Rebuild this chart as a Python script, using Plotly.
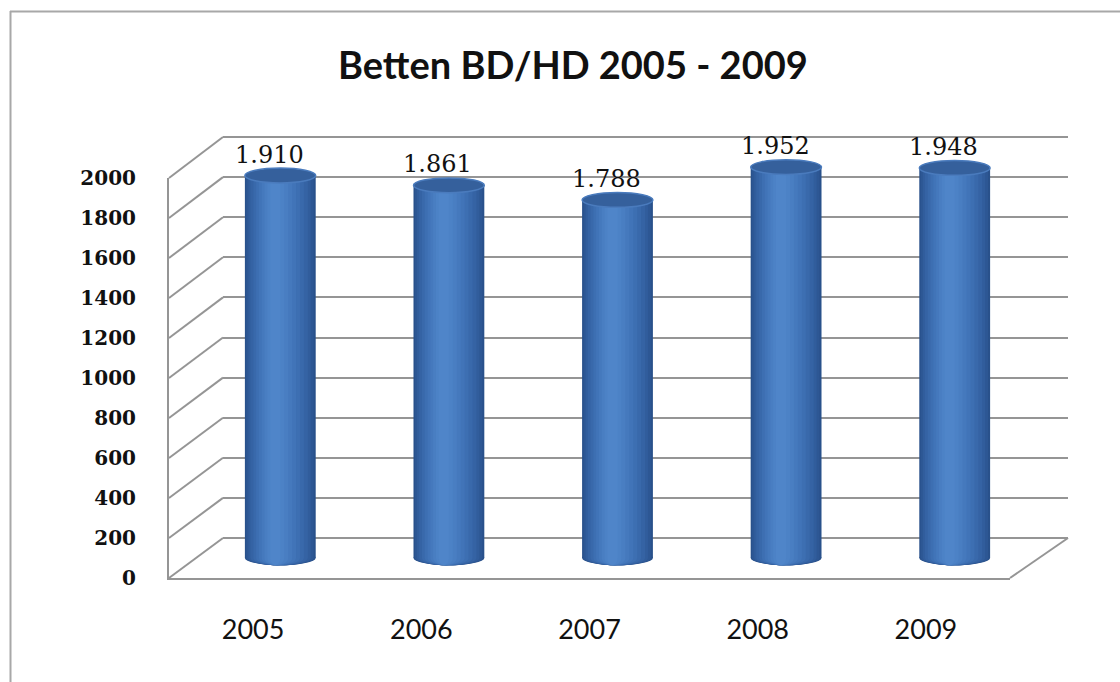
import plotly.graph_objects as go

# ---------------- data ----------------
years = ["2005", "2006", "2007", "2008", "2009"]
beds = [1910, 1861, 1788, 1952, 1948]
y_ticks = [0, 200, 400, 600, 800, 1000, 1200, 1400, 1600, 1800, 2000]
title_text = "Betten BD/HD 2005 - 2009"

# ---------------- geometry (pixels) ----------------
W, H = 1120, 682
YMAX = 2000
FRONT = dict(x0=169, x1=1010, yb=578, yt=178)   # front plane (labels, left edge, floor edge)
BACK = dict(x0=223, x1=1068, yb=538, yt=137)    # back wall (gridlines)
MID = dict(x0=196, x1=1039, yb=558, yt=157.5)   # mid plane (cylinders)


def px(x):
    return x / W


def py(y):
    return 1 - y / H


def ypix(p, v):
    return p["yb"] + (p["yt"] - p["yb"]) * v / YMAX


def dom_x(p):
    return [px(p["x0"]), px(p["x1"])]


def dom_y(p, lo=0, hi=YMAX):
    return [py(ypix(p, lo)), py(ypix(p, hi))]


idx = list(range(len(years)))
fig = go.Figure()

# back wall subplot (x, y) – gridlines only
fig.add_trace(go.Scatter(x=[0], y=[0], mode="markers", marker=dict(opacity=0),
                         hoverinfo="skip", showlegend=False, xaxis="x", yaxis="y"))

# cylinders (x2, y2) – overlaid bars of decreasing width give the cylinder shading
BAR_W = 0.42
layers = [(0.42, "#29518b"), (0.40, "#2d5794"), (0.37, "#315d9c"), (0.34, "#3563a4"),
          (0.30, "#3969ab"), (0.26, "#3d6fb2"), (0.22, "#4174b8"), (0.18, "#4579bd"),
          (0.14, "#497ec2"), (0.10, "#4c82c6"), (0.06, "#4f85c9")]
shapes = []
for w, c in layers:
    off = -w / 2 - 0.035 * (1 - w / BAR_W)
    fig.add_trace(go.Bar(x=idx, y=beds, width=w, offset=off, marker=dict(color=c, line=dict(width=0)),
                         hoverinfo="skip", showlegend=False, xaxis="x2", yaxis="y2"))
    for i in idx:
        shapes.append(dict(type="circle", xref="x2", yref="y2", x0=i + off, x1=i + off + w,
                           y0=-36, y1=36, fillcolor=c, line=dict(width=0), layer="below"))

for i, v in zip(idx, beds):
    shapes.append(dict(type="circle", xref="x2", yref="y2", x0=i - BAR_W / 2, x1=i + BAR_W / 2,
                       y0=v - 37, y1=v + 37, fillcolor="#35609c",
                       line=dict(color="#4a7bbd", width=1.5), layer="above"))

# front subplot (x3, y3) – labels and front edges
fig.add_trace(go.Scatter(x=[0], y=[0], mode="markers", marker=dict(opacity=0),
                         hoverinfo="skip", showlegend=False, xaxis="x3", yaxis="y3"))

GRID = "#959595"
# left wall diagonals + right floor diagonal
for v in y_ticks:
    shapes.append(dict(type="line", xref="paper", yref="paper",
                       x0=px(FRONT["x0"]), y0=py(ypix(FRONT, v)),
                       x1=px(BACK["x0"]), y1=py(ypix(BACK, v)),
                       line=dict(color=GRID, width=2), layer="below"))
shapes.append(dict(type="line", xref="paper", yref="paper",
                   x0=px(FRONT["x1"]), y0=py(FRONT["yb"]), x1=px(BACK["x1"]), y1=py(BACK["yb"]),
                   line=dict(color=GRID, width=2), layer="below"))
# outer chart border
shapes.append(dict(type="line", xref="paper", yref="paper", x0=px(10.5), y0=py(11), x1=px(10.5), y1=0,
                   line=dict(color="#a8a8a8", width=2)))
shapes.append(dict(type="line", xref="paper", yref="paper", x0=px(10), y0=py(11.5), x1=1, y1=py(11.5),
                   line=dict(color="#a8a8a8", width=2)))

annotations = [dict(text=title_text, xref="paper", yref="paper", x=px(573), y=py(64),
                    xanchor="center", yanchor="middle", showarrow=False,
                    font=dict(family="Lato", size=38, color="#111111", weight="bold"))]
for i, v in zip(idx, beds):
    annotations.append(dict(text=f"{v:,}".replace(",", "."), xref="x2", yref="y2", x=i, y=v,
                            xshift=-11, yshift=21, xanchor="center", yanchor="middle",
                            showarrow=False,
                            font=dict(family="DejaVu Serif", size=24, color="#111111")))

BACK_LO, BACK_HI = -30, YMAX + 30
MID_LO = -250
fig.update_layout(
    width=W, height=H, margin=dict(l=0, r=0, t=0, b=0, pad=0, autoexpand=False),
    paper_bgcolor="white", plot_bgcolor="rgba(0,0,0,0)",
    barmode="overlay", showlegend=False,
    xaxis=dict(domain=dom_x(BACK), range=[-0.5, 4.5], visible=False, anchor="y"),
    yaxis=dict(domain=dom_y(BACK, BACK_LO, BACK_HI), range=[BACK_LO, BACK_HI], tickvals=y_ticks,
               showgrid=True, gridcolor=GRID, gridwidth=2, zeroline=False, showticklabels=False,
               showline=False, anchor="x"),
    xaxis2=dict(domain=dom_x(MID), range=[-0.5, 4.5], visible=False, anchor="y2"),
    yaxis2=dict(domain=dom_y(MID, MID_LO, YMAX + 100), range=[MID_LO, YMAX + 100], visible=False,
                anchor="x2"),
    xaxis3=dict(domain=dom_x(FRONT), range=[-0.5, 4.5], tickvals=idx, ticktext=years,
                showgrid=False, zeroline=False, showline=True, linecolor=GRID, linewidth=2,
                ticks="", ticklabelstandoff=27, anchor="y3", automargin=False,
                tickfont=dict(family="Lato", size=27, color="#111111")),
    yaxis3=dict(domain=dom_y(FRONT), range=[0, YMAX], tickvals=y_ticks, tickformat="d",
                showgrid=False, zeroline=False, showline=True, linecolor=GRID, linewidth=2,
                ticks="", ticklabelstandoff=27, anchor="x3", automargin=False,
                tickfont=dict(family="DejaVu Serif", size=20, color="#111111", weight="bold")),
    shapes=shapes, annotations=annotations,
)

fig.write_html("out.html")
